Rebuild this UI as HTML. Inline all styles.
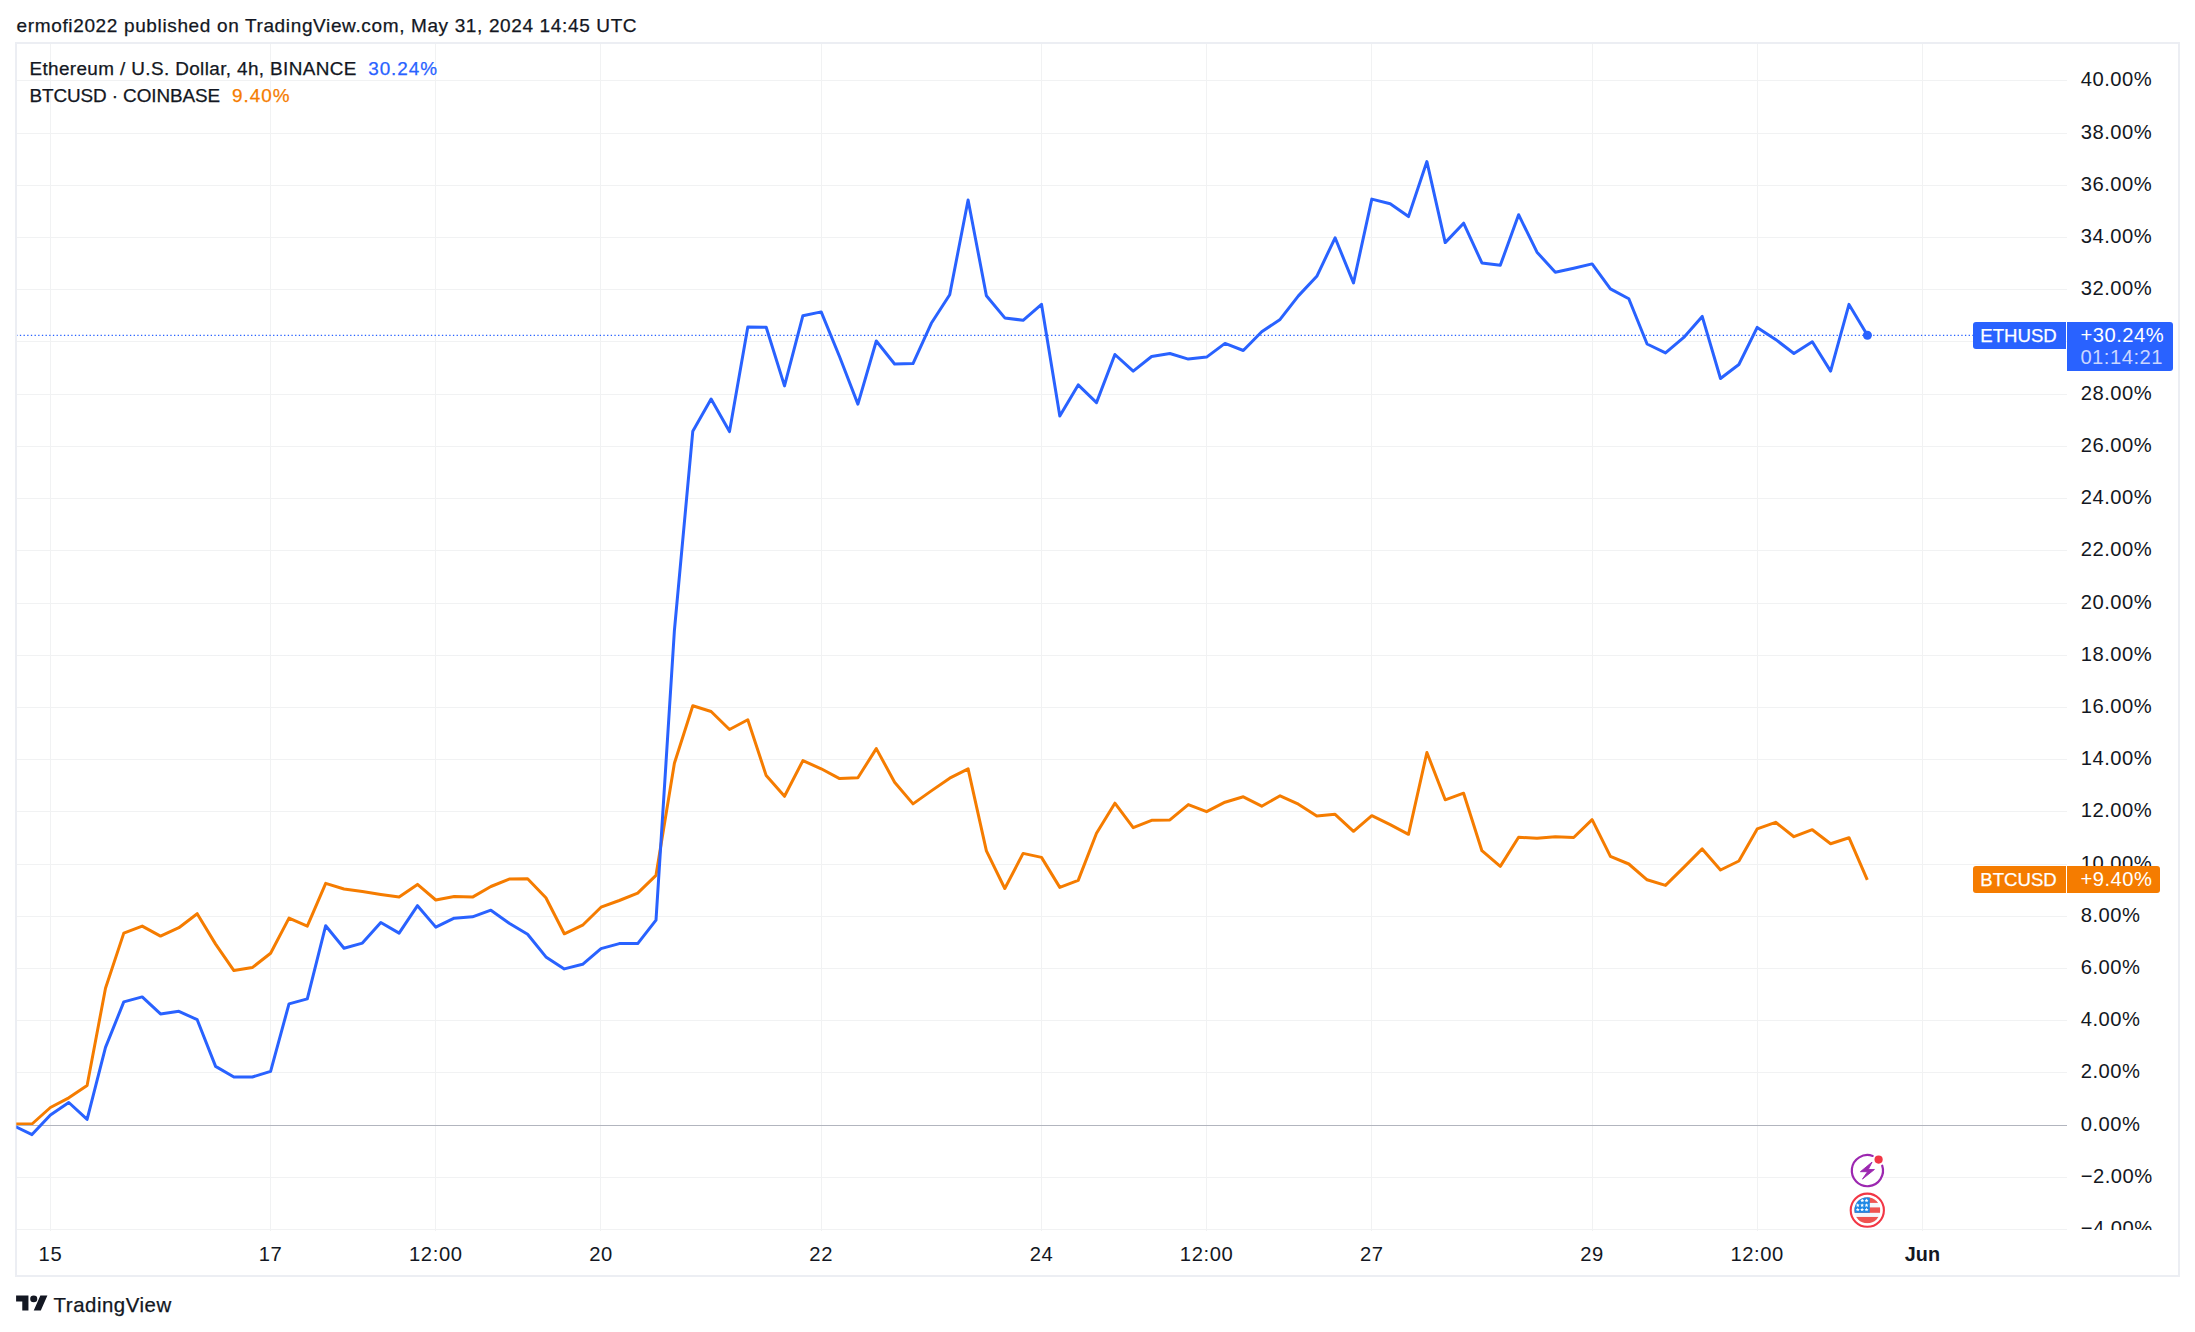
<!DOCTYPE html>
<html lang="en"><head><meta charset="utf-8"><title>ETHUSD vs BTCUSD – TradingView</title>
<style>
html,body{margin:0;padding:0;background:#fff;}
body{width:2195px;height:1332px;overflow:hidden;position:relative;font-family:"Liberation Sans", sans-serif;color:#131722;}
svg{position:absolute;left:0;top:0;display:block;}
text{font-family:"Liberation Sans", sans-serif;stroke-width:0.25px;}
.ax{font-size:20.2px;fill:#131722;letter-spacing:0.5px;}
.tm{font-size:20.2px;fill:#131722;letter-spacing:0.6px;text-anchor:middle;}
.lg{font-size:18.9px;fill:#131722;stroke:#131722;}
.bd{font-size:18.6px;fill:#fff;stroke:#fff;}
.bv{font-size:20.2px;fill:#fff;letter-spacing:0.5px;}
</style></head><body>
<svg width="2195" height="1332" viewBox="0 0 2195 1332">
<defs><clipPath id="plot"><rect x="16.3" y="44" width="2050.7" height="1186"/></clipPath>
<clipPath id="paxis"><rect x="2067" y="44" width="111" height="1186"/></clipPath>
<clipPath id="flag"><circle cx="1867.3" cy="1210.2" r="13"/></clipPath></defs>
<text class="lg" x="16.6" y="32.1" textLength="620" lengthAdjust="spacing" style="font-size:19px">ermofi2022 published on TradingView.com, May 31, 2024 14:45 UTC</text>
<rect x="16" y="43" width="2163" height="1233" fill="none" stroke="#eceef3" stroke-width="2"/>
<path d="M50.5 44V1231M270.5 44V1231M435.5 44V1231M600.5 44V1231M821.5 44V1231M1041.5 44V1231M1206.5 44V1231M1371.5 44V1231M1592.5 44V1231M1757.5 44V1231M1922.5 44V1231M17 80.5H2067M17 133.5H2067M17 185.5H2067M17 237.5H2067M17 289.5H2067M17 341.5H2067M17 394.5H2067M17 446.5H2067M17 498.5H2067M17 550.5H2067M17 603.5H2067M17 655.5H2067M17 707.5H2067M17 759.5H2067M17 811.5H2067M17 864.5H2067M17 916.5H2067M17 968.5H2067M17 1020.5H2067M17 1072.5H2067M17 1177.5H2067M17 1229.5H2067" stroke="#f1f2f3" stroke-width="1" fill="none"/>
<path d="M1973.6 335.3H17" stroke="#2962ff" stroke-width="1.15" stroke-dasharray="1.3 2.37" fill="none"/>
<g clip-path="url(#plot)" fill="none" stroke-linejoin="round" stroke-linecap="butt">
<path d="M13.7 1124.0 L32.0 1124.0 L50.4 1107.5 L68.8 1097.8 L87.1 1085.5 L105.5 988.2 L123.8 933.1 L142.2 926.1 L160.5 936.1 L178.9 927.7 L197.2 913.7 L215.6 944.1 L233.9 970.6 L252.3 967.6 L270.6 953.2 L289.0 918.1 L307.3 926.1 L325.7 883.4 L344.0 889.0 L362.4 891.6 L380.8 894.4 L399.1 897.0 L417.5 884.4 L435.8 900.0 L454.2 896.5 L472.5 897.1 L490.9 886.5 L509.2 879.1 L527.6 878.7 L545.9 897.7 L564.3 933.8 L582.6 925.2 L601.0 907.2 L619.3 900.5 L637.7 893.1 L656.0 875.3 L674.4 763.2 L692.8 705.7 L711.1 711.5 L729.5 729.5 L747.8 719.7 L766.2 775.6 L784.5 796.3 L802.9 760.6 L821.2 768.8 L839.6 778.6 L857.9 777.8 L876.3 748.6 L894.6 782.2 L913.0 803.9 L931.3 790.9 L949.7 778.2 L968.1 768.8 L986.4 850.8 L1004.8 888.5 L1023.1 853.4 L1041.5 857.4 L1059.8 887.4 L1078.2 880.4 L1096.5 833.3 L1114.9 803.2 L1133.2 827.7 L1151.6 820.3 L1169.9 819.9 L1188.3 804.6 L1206.6 811.7 L1225.0 802.2 L1243.3 796.8 L1261.7 806.2 L1280.1 795.8 L1298.4 804.2 L1316.8 815.9 L1335.1 814.3 L1353.5 831.3 L1371.8 815.7 L1390.2 824.7 L1408.5 834.3 L1426.9 752.5 L1445.2 799.8 L1463.6 793.2 L1481.9 850.7 L1500.3 866.4 L1518.6 837.3 L1537.0 838.3 L1555.3 836.7 L1573.7 837.5 L1592.1 819.7 L1610.4 856.4 L1628.8 864.0 L1647.1 879.8 L1665.5 885.4 L1683.8 867.4 L1702.2 848.9 L1720.5 870.0 L1738.9 861.0 L1757.2 828.9 L1775.6 822.3 L1793.9 836.7 L1812.3 829.7 L1830.6 843.7 L1849.0 837.7 L1867.3 879.8" stroke="#f57c00" stroke-width="3"/>
<path d="M17 1125.5H2067" stroke="#b2b5be" stroke-width="1.2"/>
<path d="M13.7 1125.7 L32.0 1134.6 L50.4 1114.9 L68.8 1102.5 L87.1 1119.4 L105.5 1047.4 L123.8 1001.9 L142.2 996.9 L160.5 1013.9 L178.9 1011.3 L197.2 1019.7 L215.6 1066.4 L233.9 1077.0 L252.3 1077.0 L270.6 1071.4 L289.0 1003.9 L307.3 998.9 L325.7 925.7 L344.0 948.2 L362.4 943.1 L380.8 922.5 L399.1 933.1 L417.5 905.7 L435.8 927.1 L454.2 918.2 L472.5 916.8 L490.9 910.2 L509.2 923.2 L527.6 934.2 L545.9 956.9 L564.3 968.9 L582.6 964.3 L601.0 948.6 L619.3 943.6 L637.7 943.6 L656.0 920.2 L674.4 630.5 L692.8 431.2 L711.1 399.1 L729.5 431.6 L747.8 326.9 L766.2 327.3 L784.5 385.9 L802.9 315.7 L821.2 311.9 L839.6 356.8 L857.9 404.1 L876.3 341.0 L894.6 364.0 L913.0 363.6 L931.3 323.3 L949.7 294.7 L968.1 200.0 L986.4 295.7 L1004.8 317.9 L1023.1 320.3 L1041.5 304.3 L1059.8 415.9 L1078.2 384.9 L1096.5 402.6 L1114.9 354.5 L1133.2 371.1 L1151.6 356.5 L1169.9 353.5 L1188.3 359.1 L1206.6 357.1 L1225.0 343.4 L1243.3 350.5 L1261.7 331.8 L1280.1 319.4 L1298.4 295.9 L1316.8 276.3 L1335.1 237.8 L1353.5 282.9 L1371.8 199.1 L1390.2 203.7 L1408.5 216.6 L1426.9 161.6 L1445.2 242.6 L1463.6 223.2 L1481.9 262.9 L1500.3 265.3 L1518.6 214.7 L1537.0 252.2 L1555.3 272.3 L1573.7 268.3 L1592.1 263.9 L1610.4 288.9 L1628.8 298.7 L1647.1 344.0 L1665.5 352.9 L1683.8 337.4 L1702.2 316.4 L1720.5 378.5 L1738.9 364.5 L1757.2 327.4 L1775.6 339.4 L1793.9 353.5 L1812.3 341.8 L1830.6 371.1 L1849.0 304.4 L1867.3 335.0" stroke="#2962ff" stroke-width="3"/>
</g>
<circle cx="1867.4" cy="335.2" r="4.5" fill="#2962ff"/>
<text class="lg" x="29.4" y="74.9" textLength="327" lengthAdjust="spacing">Ethereum / U.S. Dollar, 4h, BINANCE</text>
<text class="lg" x="368.2" y="74.9" textLength="68.8" lengthAdjust="spacing" style="fill:#2962ff;stroke:#2962ff">30.24%</text>
<text class="lg" x="29.4" y="101.8" textLength="190.8" lengthAdjust="spacing">BTCUSD · COINBASE</text>
<text class="lg" x="232" y="101.8" textLength="57.6" lengthAdjust="spacing" style="fill:#f57c00;stroke:#f57c00">9.40%</text>
<g clip-path="url(#paxis)">
<text class="ax" x="2080.7" y="86.0">40.00%</text>
<text class="ax" x="2080.7" y="139.0">38.00%</text>
<text class="ax" x="2080.7" y="191.0">36.00%</text>
<text class="ax" x="2080.7" y="243.0">34.00%</text>
<text class="ax" x="2080.7" y="295.0">32.00%</text>
<text class="ax" x="2080.7" y="347.0">30.00%</text>
<text class="ax" x="2080.7" y="400.0">28.00%</text>
<text class="ax" x="2080.7" y="452.0">26.00%</text>
<text class="ax" x="2080.7" y="504.0">24.00%</text>
<text class="ax" x="2080.7" y="556.0">22.00%</text>
<text class="ax" x="2080.7" y="609.0">20.00%</text>
<text class="ax" x="2080.7" y="661.0">18.00%</text>
<text class="ax" x="2080.7" y="713.0">16.00%</text>
<text class="ax" x="2080.7" y="765.0">14.00%</text>
<text class="ax" x="2080.7" y="817.0">12.00%</text>
<text class="ax" x="2080.7" y="870.0">10.00%</text>
<text class="ax" x="2080.7" y="922.0">8.00%</text>
<text class="ax" x="2080.7" y="974.0">6.00%</text>
<text class="ax" x="2080.7" y="1026.0">4.00%</text>
<text class="ax" x="2080.7" y="1078.0">2.00%</text>
<text class="ax" x="2080.7" y="1131.0">0.00%</text>
<text class="ax" x="2080.7" y="1183.0">−2.00%</text>
<text class="ax" x="2080.7" y="1235.0">−4.00%</text>
</g>
<text class="tm" x="50.4" y="1260.7">15</text>
<text class="tm" x="270.6" y="1260.7">17</text>
<text class="tm" x="435.8" y="1260.7">12:00</text>
<text class="tm" x="601.0" y="1260.7">20</text>
<text class="tm" x="821.2" y="1260.7">22</text>
<text class="tm" x="1041.5" y="1260.7">24</text>
<text class="tm" x="1206.6" y="1260.7">12:00</text>
<text class="tm" x="1371.8" y="1260.7">27</text>
<text class="tm" x="1592.1" y="1260.7">29</text>
<text class="tm" x="1757.2" y="1260.7">12:00</text>
<text class="tm" x="1922.4" y="1260.7" style="font-weight:bold;letter-spacing:0;font-size:19.8px">Jun</text>
<circle cx="1867.4" cy="1170.6" r="17.2" fill="#fff"/>
<g transform="translate(1867.4 1170.6)">
<path d="M 5.3 -14.65 A 15.6 15.6 0 1 0 14.8 -4.9" fill="none" stroke="#9c27b0" stroke-width="2.2" stroke-linecap="round"/>
<path d="M4.65 -8.5L-7 1.1L0.15 1.1L-4.95 8.5L7.05 -1.1L0.9 -1.1Z" fill="#9c27b0" stroke="#9c27b0" stroke-width="0.9" stroke-linejoin="round"/>
<circle cx="11.2" cy="-11" r="4.1" fill="#f23645"/>
</g>
<circle cx="1867.3" cy="1210.2" r="16.6" fill="#fff" stroke="#f23645" stroke-width="2.1"/>
<g clip-path="url(#flag)">
<rect x="1854.3" y="1197.2" width="26" height="26" fill="#f5f7fa"/>
<rect x="1854.3" y="1197.2" width="26" height="5.7" fill="#ef5350"/>
<rect x="1854.3" y="1207.4" width="26" height="5.4" fill="#ef5350"/>
<rect x="1854.3" y="1216.95" width="26" height="6.5" fill="#ef5350"/>
<rect x="1854.3" y="1197.2" width="15.5" height="15.6" fill="#1e88e5"/>
<polygon points="1862.27,1198.54 1862.83,1199.87 1864.27,1199.99 1863.17,1200.93 1863.50,1202.34 1862.27,1201.58 1861.04,1202.34 1861.37,1200.93 1860.27,1199.99 1861.71,1199.87" fill="#fff"/>
<polygon points="1866.55,1198.54 1867.10,1199.87 1868.55,1199.99 1867.45,1200.93 1867.78,1202.34 1866.55,1201.58 1865.31,1202.34 1865.65,1200.93 1864.55,1199.99 1865.99,1199.87" fill="#fff"/>
<polygon points="1857.77,1203.19 1858.32,1204.53 1859.76,1204.64 1858.67,1205.58 1859.00,1206.99 1857.77,1206.24 1856.53,1206.99 1856.87,1205.58 1855.77,1204.64 1857.21,1204.53" fill="#fff"/>
<polygon points="1862.12,1203.19 1862.68,1204.53 1864.12,1204.64 1863.02,1205.58 1863.35,1206.99 1862.12,1206.24 1860.89,1206.99 1861.22,1205.58 1860.12,1204.64 1861.56,1204.53" fill="#fff"/>
<polygon points="1866.55,1203.19 1867.10,1204.53 1868.55,1204.64 1867.45,1205.58 1867.78,1206.99 1866.55,1206.24 1865.31,1206.99 1865.65,1205.58 1864.55,1204.64 1865.99,1204.53" fill="#fff"/>
<polygon points="1857.77,1207.54 1858.32,1208.88 1859.76,1208.99 1858.67,1209.94 1859.00,1211.34 1857.77,1210.59 1856.53,1211.34 1856.87,1209.94 1855.77,1208.99 1857.21,1208.88" fill="#fff"/>
<polygon points="1862.12,1207.54 1862.68,1208.88 1864.12,1208.99 1863.02,1209.94 1863.35,1211.34 1862.12,1210.59 1860.89,1211.34 1861.22,1209.94 1860.12,1208.99 1861.56,1208.88" fill="#fff"/>
<polygon points="1866.55,1207.54 1867.10,1208.88 1868.55,1208.99 1867.45,1209.94 1867.78,1211.34 1866.55,1210.59 1865.31,1211.34 1865.65,1209.94 1864.55,1208.99 1865.99,1208.88" fill="#fff"/>
</g>
<path d="M1976 322H2066V349H1976A3 3 0 0 1 1973 346V325A3 3 0 0 1 1976 322Z" fill="#2962ff"/>
<path d="M2067 322H2170A3 3 0 0 1 2173 325V368A3 3 0 0 1 2170 371H2067Z" fill="#2962ff"/>
<text class="bd" x="1980.2" y="342.1" textLength="76.6" lengthAdjust="spacing">ETHUSD</text>
<text class="bv" x="2080.4" y="342.1">+30.24%</text>
<text class="bv" x="2080.4" y="364.1" style="fill:#c9d6ff">01:14:21</text>
<path d="M1976 866H2066V893H1976A3 3 0 0 1 1973 890V869A3 3 0 0 1 1976 866Z" fill="#f57c00"/>
<path d="M2067 866H2157A3 3 0 0 1 2160 869V890A3 3 0 0 1 2157 893H2067Z" fill="#f57c00"/>
<text class="bd" x="1980.2" y="886" textLength="76.6" lengthAdjust="spacing">BTCUSD</text>
<text class="bv" x="2080.4" y="886">+9.40%</text>
<g transform="translate(16.1 1292.3) scale(0.882 0.83)" fill="#131722"><path d="M14 22H7V11H0V4h14v18zM28 22h-8l7.5-18h8L28 22z"/><circle cx="20" cy="8" r="4"/></g>
<text x="53.6" y="1311.6" textLength="117.6" lengthAdjust="spacing" style="font-size:20.4px;fill:#131722;stroke:#131722">TradingView</text>
</svg>
</body></html>
